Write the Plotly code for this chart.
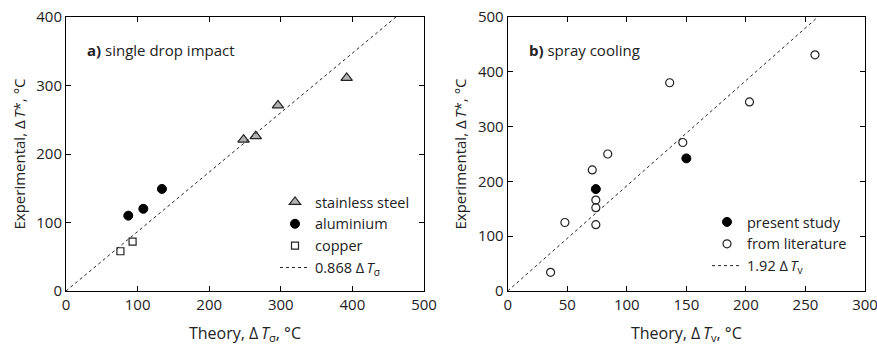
import plotly.graph_objects as go

# ---- Panel a: single drop impact ----
ss_x = [248, 265, 296, 392]
ss_y = [221, 226, 271, 311]
al_x = [87, 108, 134]
al_y = [110, 120, 149]
cu_x = [76, 93]
cu_y = [58, 72]
coef_a = 0.868
fit_a_x = [0, 461]

# ---- Panel b: spray cooling ----
ps_x = [74, 150]
ps_y = [186, 242]
lit_x = [36, 48, 71, 74, 74, 74, 84, 136, 147, 203, 258]
lit_y = [34, 125, 221, 166, 152, 121, 250, 380, 271, 345, 431]
coef_b = 1.92
fit_b_x = [0, 261]

xa_ticks = [0, 100, 200, 300, 400, 500]
ya_ticks = [0, 100, 200, 300, 400]
xb_ticks = [0, 50, 100, 150, 200, 250, 300]
yb_ticks = [0, 100, 200, 300, 400, 500]

FONT = "Open Sans"
TXT = "#222222"
W, H = 877, 347
ML, MR, MT, MB = 66, 12, 17, 56
PW = W - ML - MR
PH = H - MT - MB
TS = "\u2009"  # thin space

fig = go.Figure()

fig.add_trace(go.Scatter(x=ss_x, y=ss_y, mode="markers", name="stainless steel",
    marker=dict(symbol="triangle-up", size=10, color="#b3b3b3", line=dict(color="#222", width=1.2)),
    xaxis="x", yaxis="y", legend="legend"))
fig.add_trace(go.Scatter(x=al_x, y=al_y, mode="markers", name="aluminium",
    marker=dict(symbol="circle", size=9, color="black", line=dict(color="black", width=1)),
    xaxis="x", yaxis="y", legend="legend"))
fig.add_trace(go.Scatter(x=cu_x, y=cu_y, mode="markers", name="copper",
    marker=dict(symbol="square-open", size=7, color="#222", line=dict(width=1.2)),
    xaxis="x", yaxis="y", legend="legend"))
fig.add_trace(go.Scatter(x=fit_a_x, y=[coef_a * v for v in fit_a_x], mode="lines",
    name=f"0.868 Δ{TS}<i>T</i><sub>σ</sub>",
    line=dict(color="#222", width=1, dash="3px,3px"),
    xaxis="x", yaxis="y", legend="legend"))

fig.add_trace(go.Scatter(x=ps_x, y=ps_y, mode="markers", name="present study",
    marker=dict(symbol="circle", size=9, color="black", line=dict(color="black", width=1)),
    xaxis="x2", yaxis="y2", legend="legend2"))
fig.add_trace(go.Scatter(x=lit_x, y=lit_y, mode="markers", name="from literature",
    marker=dict(symbol="circle-open", size=8, color="#222", line=dict(width=1.2)),
    xaxis="x2", yaxis="y2", legend="legend2"))
fig.add_trace(go.Scatter(x=fit_b_x, y=[coef_b * v for v in fit_b_x], mode="lines",
    name=f"1.92 Δ{TS}<i>T</i><sub>v</sub>",
    line=dict(color="#222", width=1, dash="3px,3px"),
    xaxis="x2", yaxis="y2", legend="legend2"))

ax_common = dict(showline=True, linecolor="black", linewidth=1, mirror="ticks",
                 ticks="inside", ticklen=5, tickcolor="black", showgrid=False,
                 zeroline=False, automargin=False, ticklabeloverflow="allow",
                 tickfont=dict(family=FONT, size=15, color=TXT))

XT_FONT = dict(family=FONT, size=16, color=TXT)
YT_FONT = dict(family=FONT, size=15, color=TXT)
LEG_FONT = dict(family=FONT, size=14.5, color=TXT)

fig.update_layout(
    width=W, height=H,
    margin=dict(l=ML, r=MR, t=MT, b=MB),
    paper_bgcolor="white", plot_bgcolor="white",
    font=dict(family=FONT, size=15, color=TXT),
    xaxis=dict(domain=[0, (424 - ML) / PW], range=[0, 500], tickvals=xa_ticks, anchor="y",
               title=dict(text=f"Theory, Δ{TS}<i>T</i><sub>σ</sub>, °C", font=XT_FONT, standoff=14),
               **ax_common),
    yaxis=dict(domain=[0, 1], range=[0, 400], tickvals=ya_ticks, anchor="x",
               title=dict(text=f"Experimental, Δ{TS}<i>T</i>*, °C", font=YT_FONT, standoff=7),
               **ax_common),
    xaxis2=dict(domain=[(507.7 - ML) / PW, 1], range=[0, 300], tickvals=xb_ticks, anchor="y2",
                title=dict(text=f"Theory, Δ{TS}<i>T</i><sub>v</sub>, °C", font=XT_FONT, standoff=14),
                **ax_common),
    yaxis2=dict(domain=[0, 1], range=[0, 500], tickvals=yb_ticks, anchor="x2",
                title=dict(text=f"Experimental, Δ{TS}<i>T</i>*, °C", font=YT_FONT, standoff=7),
                **ax_common),
    legend=dict(x=(275 - ML) / PW, y=1 - (186 - MT) / PH, xanchor="left", yanchor="top",
                xref="paper", yref="paper",
                bgcolor="rgba(0,0,0,0)", font=LEG_FONT, tracegroupgap=0),
    legend2=dict(x=(707 - ML) / PW, y=1 - (206 - MT) / PH, xanchor="left", yanchor="top",
                 xref="paper", yref="paper",
                 bgcolor="rgba(0,0,0,0)", font=LEG_FONT, tracegroupgap=0),
    showlegend=True,
    annotations=[
        dict(text="<b>a)</b> single drop impact", xref="x domain", yref="y domain",
             x=0.053, y=0.880, xanchor="left", yanchor="middle", showarrow=False,
             font=dict(family=FONT, size=15, color=TXT)),
        dict(text="<b>b)</b> spray cooling", xref="x2 domain", yref="y2 domain",
             x=0.053, y=0.880, xanchor="left", yanchor="middle", showarrow=False,
             font=dict(family=FONT, size=15, color=TXT)),
    ],
)

fig.write_html("out.html")
